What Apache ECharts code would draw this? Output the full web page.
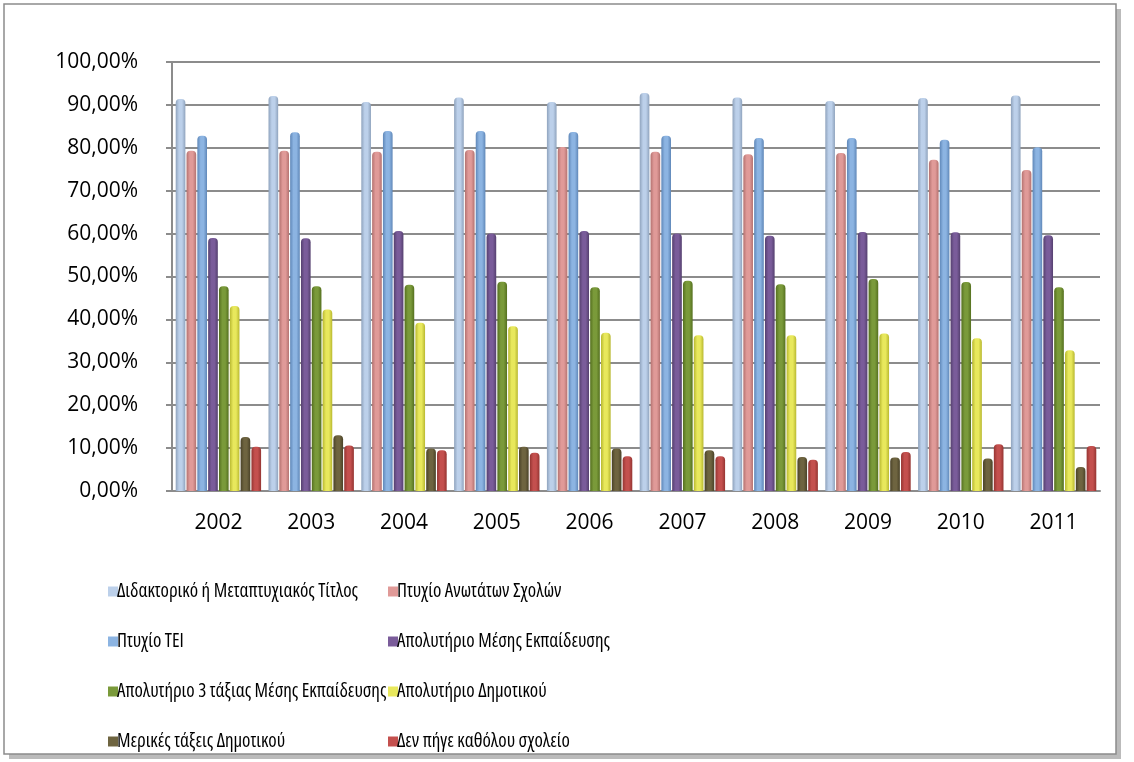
<!DOCTYPE html>
<html>
<head>
<meta charset="utf-8">
<script src="https://cdn.jsdelivr.net/npm/echarts@6/dist/echarts.min.js"></script>
<style>
  html, body { margin: 0; padding: 0; background: #fff; }
  #main { width: 1134px; height: 762px; }
</style>
</head>
<body>
<div id="main"></div>
<script>
// έτη
var years = ['2002', '2003', '2004', '2005', '2006', '2007', '2008', '2009', '2010', '2011'];
// ονόματα σειρών
var seriesNames = [
  'Διδακτορικό ή Μεταπτυχιακός Τίτλος',
  'Πτυχίο Ανωτάτων Σχολών',
  'Πτυχίο ΤΕΙ',
  'Απολυτήριο Μέσης Εκπαίδευσης',
  'Απολυτήριο 3 τάξιας Μέσης Εκπαίδευσης',
  'Απολυτήριο Δημοτικού',
  'Μερικές τάξεις Δημοτικού',
  'Δεν πήγε καθόλου σχολείο'
];
// τιμές (%)
var didaktoriko = [91.4, 92.1, 90.7, 91.7, 90.7, 92.8, 91.7, 90.9, 91.6, 92.2];
var anotates    = [79.3, 79.3, 79.1, 79.5, 80.2, 79.1, 78.5, 78.8, 77.2, 74.8];
var tei         = [82.8, 83.6, 83.9, 83.9, 83.7, 82.8, 82.3, 82.3, 81.9, 80.1];
var mesi        = [59.0, 58.9, 60.6, 60.0, 60.6, 60.0, 59.5, 60.4, 60.3, 59.6];
var tritaxia    = [47.7, 47.7, 48.1, 48.8, 47.5, 49.0, 48.2, 49.4, 48.7, 47.5];
var dimotiko    = [43.1, 42.3, 39.2, 38.4, 36.9, 36.3, 36.3, 36.7, 35.6, 32.8];
var merikes     = [12.6, 13.0, 9.9, 10.3, 9.9, 9.5, 7.9, 7.8, 7.6, 5.6];
var katholou    = [10.3, 10.6, 9.5, 8.9, 8.1, 8.1, 7.3, 9.1, 10.9, 10.5];

var values = [didaktoriko, anotates, tei, mesi, tritaxia, dimotiko, merikes, katholou];
var colors = ['#bcd0ea', '#e09a98', '#8cb4e2', '#7a5c9a', '#7a9a3a', '#e8e85c', '#6e6440', '#c4504e'];
var darks  = ['#8fa3bd', '#b47270', '#5f87b8', '#55406f', '#55701f', '#b8b830', '#4a4228', '#953532'];

var myChart = echarts.init(document.getElementById('main'));

// στενή γραμματοσειρά (Open Sans Condensed) για το υπόμνημα
var font = '"Open Sans"';
var stretch = 'condensed';

var series = seriesNames.map(function (name, i) {
  return {
    name: name,
    type: 'bar',
    data: values[i],
    barGap: '12%',
    barCategoryGap: '8%',
    itemStyle: {
      color: new echarts.graphic.LinearGradient(0, 0, 1, 0, [
        { offset: 0, color: darks[i] },
        { offset: 0.35, color: colors[i] },
        { offset: 0.65, color: colors[i] },
        { offset: 1, color: darks[i] }
      ]),
      borderRadius: [4, 4, 0, 0]
    }
  };
});

function legendFor(idx, left) {
  return {
    orient: 'vertical',
    left: left,
    top: 577,
    itemGap: 31,
    itemWidth: 10,
    itemHeight: 10,
    icon: 'rect',
    selectedMode: false,
    textStyle: { fontFamily: font, fontStyle: stretch, fontSize: 19, color: '#000', padding: [0, 0, 0, -6] },
    data: idx.map(function (k) { return { name: seriesNames[k], itemStyle: { color: colors[k] } }; })
  };
}

var option = {
  color: colors,
  animation: false,
  graphic: [
    {
      type: 'rect',
      shape: { x: 9, y: 9, width: 1112, height: 750 },
      style: { fill: '#bbb', stroke: null },
      z: -20
    },
    {
      type: 'rect',
      shape: { x: 4, y: 4, width: 1112, height: 750 },
      style: { fill: '#fff', stroke: '#8c8c8c', lineWidth: 1.5 },
      z: -10
    }
  ],
  grid: { left: 172, right: 34, top: 62, bottom: 271 },
  legend: [legendFor([0, 2, 4, 6], 103), legendFor([1, 3, 5, 7], 383)],
  xAxis: {
    type: 'category',
    data: years,
    axisLine: { show: true, lineStyle: { color: '#8c8c8c', width: 2 } },
    axisTick: { show: false },
    axisLabel: { fontFamily: font, fontSize: 21, color: '#000', margin: 22 }
  },
  yAxis: {
    type: 'value',
    min: 0,
    max: 100,
    interval: 10,
    axisLine: { show: true, lineStyle: { color: '#8c8c8c', width: 2 } },
    axisTick: { show: true, length: 6, lineStyle: { color: '#8c8c8c', width: 2 } },
    splitLine: { lineStyle: { color: '#8c8c8c', width: 2 } },
    axisLabel: {
      fontFamily: font, fontSize: 21, color: '#000', margin: 34,
      formatter: function (v) { return v.toFixed(2).replace('.', ',') + '%'; }
    }
  },
  series: series
};

myChart.setOption(option);
</script>
</body>
</html>
